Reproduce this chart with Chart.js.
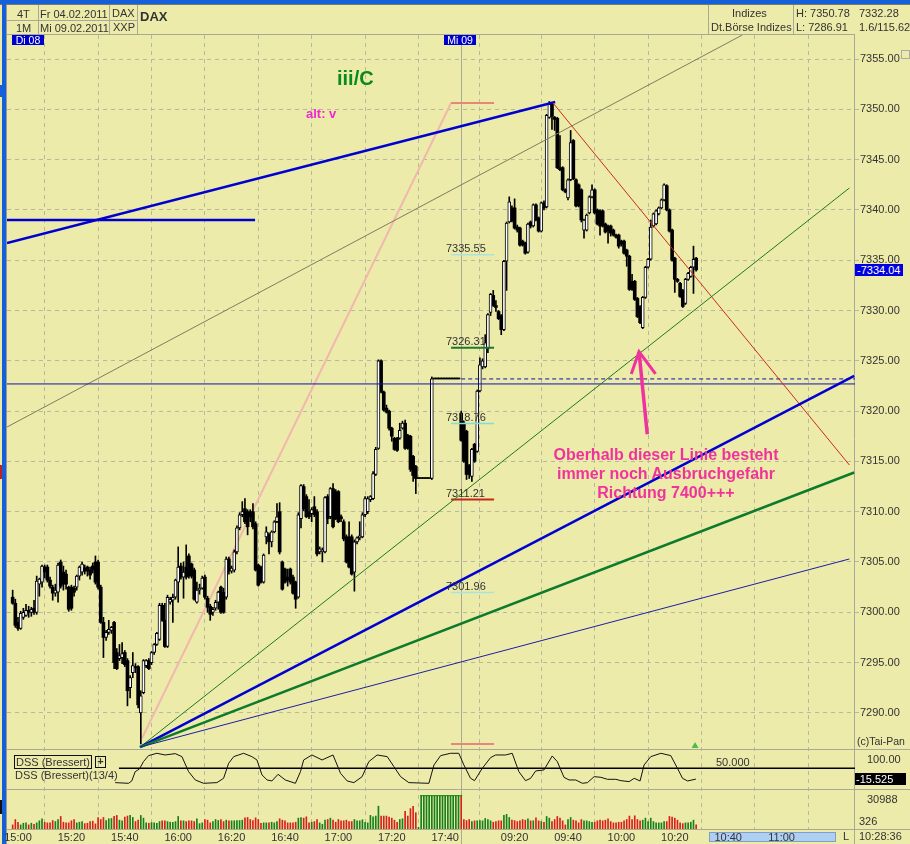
<!DOCTYPE html>
<html>
<head>
<meta charset="utf-8">
<script src="https://cdn.jsdelivr.net/npm/chart.js@4/dist/chart.umd.min.js"></script>
<style>
html, body { margin: 0; padding: 0; background: #ecebaa; overflow: hidden; }
#wrap { position: relative; width: 910px; height: 844px; font: 11px "Liberation Sans", Arial, sans-serif; color: #333; }
#c { position: absolute; left: 0; top: 0; z-index: 2; }
.t { position: absolute; white-space: nowrap; line-height: 12px; z-index: 3; }
.b { position: absolute; background: #a9a99a; z-index: 1; }
.pink { color: #f0339c; font-weight: bold; font-size: 16px; line-height: 19px; text-align: center; left: 535px; width: 262px; top: 445px; }
</style>
</head>
<body>
<div id="wrap">
  <div class="b" style="left:0;top:0;width:910px;height:4px;background:#1560d8"></div>
  <div class="b" style="left:0;top:4px;width:910px;height:1px;background:#777"></div>
  <div class="b" style="left:2px;top:0;width:4px;height:844px;background:#1560d8"></div>
  <div class="b" style="left:0;top:85px;width:2px;height:12px;background:#1560d8"></div>
  <div class="b" style="left:0;top:465px;width:2px;height:14px;background:#c02020"></div>
  <div class="b" style="left:0;top:800px;width:2px;height:14px;background:#111"></div>
  <div class="b" style="left:6px;top:5px;width:1px;height:839px;background:#999"></div>

  <!-- header -->
  <div class="b" style="left:7px;top:34px;width:848px;height:1px"></div>
  <div class="b" style="left:7px;top:20px;width:130px;height:1px"></div>
  <div class="b" style="left:38px;top:5px;width:1px;height:29px"></div>
  <div class="b" style="left:109px;top:5px;width:1px;height:29px"></div>
  <div class="b" style="left:137px;top:5px;width:1px;height:29px"></div>
  <div class="b" style="left:708px;top:5px;width:1px;height:29px"></div>
  <div class="b" style="left:793px;top:5px;width:1px;height:29px"></div>
  <div class="t" style="left:17px;top:8px">4T</div>
  <div class="t" style="left:16px;top:22px">1M</div>
  <div class="t" style="left:40px;top:8px">Fr 04.02.2011</div>
  <div class="t" style="left:40px;top:22px">Mi 09.02.2011</div>
  <div class="t" style="left:112px;top:7px">DAX</div>
  <div class="t" style="left:113px;top:21px">XXP</div>
  <div class="t" style="left:140px;top:11px;font-weight:bold;font-size:13px">DAX</div>
  <div class="t" style="left:732px;top:7px">Indizes</div>
  <div class="t" style="left:711px;top:21px">Dt.Börse Indizes</div>
  <div class="t" style="left:796px;top:7px">H: 7350.78</div>
  <div class="t" style="left:796px;top:21px">L: 7286.91</div>
  <div class="t" style="left:859px;top:7px">7332.28</div>
  <div class="t" style="left:859px;top:21px">1.6/115.62</div>
  <div class="b" style="left:901px;top:50px;width:7px;height:7px;background:none;border:1px solid #aaa"></div>

  <div class="t" style="left:12px;top:35px;width:32px;height:10px;line-height:10px;font-size:10.5px;background:#0000cc;color:#fff;text-align:center">Di 08</div>
  <div class="t" style="left:444px;top:35px;width:32px;height:10px;line-height:10px;font-size:10.5px;background:#0000cc;color:#fff;text-align:center">Mi 09</div>

  <!-- annotations -->
  <div class="t" style="left:337px;top:68px;line-height:20px;font-size:20px;font-weight:bold;color:#0a8a1a">iii/C</div>
  <div class="t" style="left:306px;top:108px;font-size:13px;font-weight:bold;color:#f028d0">alt: v</div>
  <div class="t pink">Oberhalb dieser Linie besteht<br>immer noch Ausbruchgefahr<br>Richtung 7400+++</div>
  <div class="t" style="left:446px;top:242px">7335.55</div>
  <div class="t" style="left:446px;top:335px">7326.31</div>
  <div class="t" style="left:446px;top:411px">7318.76</div>
  <div class="t" style="left:446px;top:487px">7311.21</div>
  <div class="t" style="left:446px;top:580px">7301.96</div>

  <!-- right side labels -->
  <div class="t" style="left:855px;top:264px;width:46px;padding-left:2px;background:#0000e0;color:#fff">-7334.04</div>
  <div class="t" style="left:857px;top:735px;font-size:10.5px">(c)Tai-Pan</div>
  <div class="t" style="left:855px;top:773px;width:50px;padding-left:1px;background:#000;color:#fff">-15.525</div>
  <div class="t" style="left:859px;top:815px">326</div>
  <div class="t" style="left:716px;top:756px">50.000</div>

  <!-- lower panes -->
  <div class="t" style="left:14px;top:755px;width:75px;height:12px;border:1px solid #111;padding-left:1px">DSS (Bressert)</div>
  <div class="t" style="left:95px;top:756px;width:9px;height:10px;line-height:9px;border:1px solid #111;text-align:center;font-weight:bold">+</div>
  <div class="t" style="left:15px;top:769px">DSS (Bressert)(13/4)</div>

  <!-- time strip -->
  <div class="b" style="left:709px;top:832px;width:125px;height:8px;background:#aecff2;border:1px solid #7f9fc4"></div>
  <div class="t" style="left:843px;top:830px">L</div>
  <div class="t" style="left:859px;top:830px">10:28:36</div>

  <canvas id="c" width="910" height="844"></canvas>
</div>

<script>
// 1 minute bars, first entry is bar -2, 15:00 is bar 0, 09:00 next day is bar 166
var firstBar = -2;

var opens = [
  7301.5,7300.9,7299.0,7298.4,7299.5,7299.7,7300.2,7300.0,7300.4,7300.0,
  7302.8,7303.0,7304.5,7304.5,7303.2,7302.5,7301.9,7302.0,7305.0,7304.0,
  7303.8,7302.5,7302.5,7302.4,7302.5,7303.6,7304.0,7304.4,7304.5,7304.2,
  7304.6,7305.0,7305.0,7302.5,7299.0,7297.5,7298.0,7298.2,7299.0,7296.0,
  7295.4,7295.5,7296.0,7295.2,7292.5,7294.0,7294.6,7294.6,7290.0,7292.0,
  7294.7,7295.2,7295.0,7296.0,7296.8,7297.3,7300.7,7299.2,7296.6,7301.0,
  7301.2,7301.5,7303.0,7304.6,7303.5,7304.5,7305.6,7304.8,7304.2,7301.0,
  7302.2,7302.4,7303.5,7301.4,7300.6,7300.0,7300.4,7301.0,7302.5,7302.0,
  7301.5,7305.3,7304.1,7304.2,7306.0,7308.4,7309.7,7310.3,7310.0,7310.0,
  7310.0,7308.8,7304.7,7304.5,7303.0,7307.5,7307.7,7307.0,7308.0,7309.0,
  7310.0,7305.0,7304.3,7303.5,7304.3,7303.5,7303.0,7301.5,7309.3,7312.5,
  7311.5,7310.0,7309.8,7310.5,7310.0,7306.0,7306.0,7306.0,7311.5,7309.5,
  7312.3,7312.0,7312.0,7309.5,7309.0,7307.5,7307.5,7307.5,7304.0,7307.0,
  7307.4,7307.5,7309.7,7310.0,7311.2,7311.3,7313.7,7316.3,7325.0,7321.9,
  7320.3,7320.0,7318.3,7317.3,7317.3,7317.3,7318.3,7318.8,7317.6,7317.5,
  7315.5,7314.5,7313.3,7313.3,7313.3,7313.3,7313.3,7313.3,7323.2,7323.2,
  7323.2,7323.2,7323.2,7323.2,7323.2,7323.2,7323.2,7323.2,7319.8,7318.8,
  7318.0,7314.6,7313.5,7316.7,7316.0,7322.0,7324.4,7324.4,7326.2,7329.8,
  7331.5,7330.5,7329.9,7329.5,7328.1,7334.9,7338.8,7340.2,7340.2,7338.3,
  7338.2,7336.9,7336.7,7335.8,7338.8,7338.4,7340.5,7339.2,7337.9,7340.7,
  7340.3,7349.2,7350.5,7349.2,7349.1,7344.2,7344.2,7342.0,7341.2,7343.0,
  7346.9,7343.0,7342.5,7342.0,7338.0,7338.0,7339.7,7341.3,7342.0,7340.0,
  7339.9,7339.9,7338.6,7338.4,7338.4,7338.0,7337.5,7337.5,7336.9,7336.9,
  7336.0,7335.4,7332.9,7332.9,7331.2,7330.4,7328.3,7331.3,7334.3,7335.1,
  7338.4,7338.6,7339.6,7340.2,7341.0,7342.4,7340.0,7338.0,7335.2,7333.1,
  7332.7,7332.0,7330.7,7333.1,7333.4,7334.3,7335.2
];
var closes = [
  7300.9,7298.7,7298.4,7299.9,7300.0,7300.2,7300.0,7300.3,7300.0,7303.1,
  7303.3,7304.6,7304.0,7303.2,7302.6,7301.9,7302.2,7304.7,7302.6,7302.8,
  7302.8,7300.3,7300.4,7302.0,7303.6,7304.5,7304.8,7304.1,7304.1,7303.7,
  7304.2,7303.0,7302.5,7299.0,7297.5,7298.0,7298.3,7298.5,7295.0,7294.4,
  7295.7,7295.9,7294.8,7292.2,7293.5,7294.7,7294.5,7290.8,7291.7,7295.2,
  7295.2,7294.4,7296.0,7296.8,7297.9,7300.7,7299.2,7296.6,7301.5,7301.3,
  7301.5,7303.2,7304.5,7303.5,7304.0,7303.5,7303.6,7303.6,7301.3,7302.2,
  7302.4,7303.4,7301.5,7300.5,7299.8,7300.3,7301.0,7302.0,7300.0,7300.0,
  7305.3,7304.1,7304.4,7306.0,7308.4,7309.7,7310.0,7309.0,7308.5,7309.5,
  7308.5,7304.2,7302.7,7303.0,7305.7,7308.0,7307.0,7308.0,7309.0,7309.5,
  7306.0,7302.3,7303.0,7303.2,7303.0,7301.9,7301.3,7309.7,7312.6,7310.3,
  7309.5,7309.5,7310.2,7309.7,7305.8,7306.3,7306.2,7311.4,7309.3,7312.3,
  7308.5,7309.3,7309.0,7309.3,7307.3,7305.0,7304.5,7303.8,7307.0,7307.4,
  7307.6,7309.7,7311.3,7311.3,7311.5,7313.8,7316.2,7325.0,7321.9,7320.1,
  7319.9,7318.3,7317.5,7316.2,7316.1,7318.1,7318.8,7316.3,7316.3,7314.2,
  7313.6,7313.3,7313.3,7313.3,7313.3,7313.3,7313.3,7323.2,7323.2,7323.2,
  7323.2,7323.2,7323.2,7323.2,7323.2,7323.2,7323.2,7323.2,7317.1,7315.0,
  7313.7,7313.7,7316.2,7315.0,7322.0,7324.6,7325.0,7326.8,7329.6,7331.6,
  7330.5,7330.3,7329.2,7328.1,7334.9,7338.7,7340.8,7338.9,7338.2,7338.0,
  7336.5,7336.5,7335.7,7338.6,7338.4,7340.5,7339.0,7337.9,7340.7,7340.2,
  7349.4,7350.5,7349.3,7349.0,7344.2,7344.0,7342.0,7341.8,7343.0,7346.7,
  7343.1,7340.4,7340.4,7339.0,7339.0,7339.5,7341.3,7342.0,7339.7,7338.6,
  7338.4,7338.4,7337.8,7337.9,7337.7,7337.5,7337.3,7336.4,7336.6,7335.7,
  7335.4,7332.1,7332.1,7331.1,7329.4,7328.8,7331.3,7334.3,7335.1,7338.3,
  7339.6,7339.9,7340.2,7341.0,7342.5,7340.0,7337.9,7335.0,7333.1,7332.9,
  7331.4,7330.4,7333.1,7333.7,7334.3,7335.1,7334.04
];
var highs = [
  7302.2,7301.3,7299.5,7300.1,7300.4,7300.8,7300.6,7300.5,7301.2,7303.6,
  7303.4,7304.7,7304.7,7304.7,7303.5,7302.7,7302.8,7304.9,7305.2,7304.6,
  7304.2,7302.6,7302.7,7302.6,7303.7,7304.6,7305.0,7304.7,7304.6,7304.5,
  7304.9,7305.6,7305.2,7302.7,7299.5,7298.2,7299.2,7298.6,7299.1,7296.4,
  7296.8,7297.0,7296.2,7295.4,7293.7,7296.0,7294.9,7294.7,7292.2,7295.3,
  7295.3,7295.4,7296.1,7296.9,7298.0,7300.9,7300.9,7300.9,7301.7,7301.5,
  7301.8,7303.3,7306.5,7304.9,7305.0,7306.7,7305.8,7304.9,7304.4,7303.0,
  7302.8,7303.6,7303.7,7301.6,7300.8,7300.5,7301.2,7302.1,7302.6,7302.4,
  7305.5,7305.5,7304.6,7306.2,7308.6,7309.9,7311.0,7311.3,7310.2,7310.2,
  7310.8,7309.0,7304.8,7304.6,7305.8,7308.5,7307.9,7308.1,7309.1,7310.8,
  7310.9,7305.1,7304.4,7304.3,7304.4,7303.7,7303.1,7309.9,7312.7,7312.7,
  7311.7,7311.2,7310.4,7311.5,7310.2,7306.5,7306.4,7311.5,7311.7,7312.4,
  7312.8,7312.2,7312.1,7309.7,7309.2,7307.7,7309.0,7307.7,7307.2,7307.5,
  7309.0,7309.9,7311.5,7311.5,7311.6,7314.0,7316.4,7325.1,7325.1,7322.0,
  7320.6,7320.1,7318.4,7317.4,7317.4,7318.8,7319.0,7319.1,7317.7,7317.6,
  7315.6,7314.6,7313.3,7313.3,7313.3,7313.3,7313.3,7323.4,7323.2,7323.2,
  7323.2,7323.2,7323.2,7323.2,7323.2,7323.2,7323.2,7323.2,7320.0,7319.0,
  7318.1,7314.7,7316.3,7316.8,7322.1,7325.3,7325.2,7327.6,7329.7,7331.7,
  7332.0,7331.0,7330.0,7329.6,7335.0,7338.8,7341.3,7340.4,7341.1,7338.5,
  7338.3,7337.0,7336.8,7338.7,7338.9,7340.6,7340.6,7339.3,7340.8,7340.9,
  7349.5,7350.78,7350.6,7349.3,7349.2,7347.4,7344.3,7342.1,7343.1,7347.9,
  7347.0,7343.1,7342.6,7342.1,7339.1,7339.6,7341.4,7342.5,7342.1,7340.1,
  7340.0,7340.0,7338.7,7338.5,7338.5,7338.1,7337.6,7337.6,7337.0,7337.0,
  7336.1,7335.5,7333.6,7333.0,7331.3,7330.5,7331.4,7334.4,7335.2,7339.0,
  7339.7,7340.0,7340.3,7341.1,7342.6,7342.5,7340.1,7338.1,7335.3,7333.2,
  7332.8,7332.1,7333.2,7333.8,7334.4,7336.4,7335.3
];
var lows = [
  7300.8,7298.5,7298.2,7298.3,7299.3,7299.6,7299.5,7299.6,7299.8,7299.8,
  7301.6,7302.5,7303.4,7303.0,7302.4,7301.2,7301.6,7301.0,7302.4,7302.2,
  7302.3,7300.1,7300.2,7301.6,7302.2,7303.2,7303.7,7303.8,7303.6,7303.3,
  7303.9,7302.8,7302.3,7298.9,7295.5,7297.2,7297.8,7297.9,7294.4,7294.3,
  7295.2,7294.9,7294.6,7290.7,7291.5,7293.5,7294.0,7290.5,7286.91,7291.9,
  7294.5,7294.3,7294.8,7295.8,7296.7,7297.2,7299.1,7296.5,7296.5,7300.8,
  7299.0,7301.3,7301.0,7303.3,7301.4,7303.3,7303.4,7303.4,7301.2,7300.9,
  7301.8,7302.3,7301.3,7300.0,7299.2,7299.7,7300.2,7300.3,7299.9,7299.9,
  7301.3,7303.8,7303.9,7304.0,7305.8,7308.2,7309.5,7308.8,7307.7,7309.0,
  7308.3,7304.1,7302.6,7302.9,7302.9,7306.8,7305.8,7306.5,7307.9,7308.9,
  7305.8,7302.2,7302.9,7302.6,7302.8,7301.8,7300.4,7301.4,7308.4,7310.1,
  7309.4,7309.3,7309.0,7309.5,7305.6,7305.8,7305.0,7305.9,7308.8,7309.3,
  7308.4,7309.2,7308.9,7309.0,7307.1,7304.9,7304.4,7303.7,7302.1,7306.8,
  7307.2,7307.4,7309.5,7309.8,7311.0,7311.2,7313.6,7316.2,7321.8,7320.0,
  7319.8,7318.1,7317.0,7316.1,7316.0,7317.2,7318.2,7316.2,7316.2,7314.0,
  7313.0,7311.8,7313.3,7313.3,7313.3,7313.3,7313.3,7313.2,7323.2,7323.2,
  7323.2,7323.2,7323.2,7323.2,7323.2,7323.2,7323.2,7323.2,7317.0,7314.9,
  7313.2,7313.3,7313.0,7314.9,7315.9,7321.9,7324.2,7324.3,7325.8,7329.5,
  7330.4,7329.9,7329.1,7327.6,7328.0,7332.0,7338.7,7338.8,7338.1,7337.8,
  7336.4,7336.4,7335.6,7335.7,7338.2,7338.3,7338.9,7337.8,7337.8,7340.0,
  7340.2,7349.1,7348.0,7347.9,7344.1,7343.9,7341.9,7341.7,7341.0,7342.9,
  7343.0,7340.3,7340.3,7338.8,7337.2,7337.9,7339.6,7341.2,7339.6,7338.5,
  7337.5,7338.3,7337.7,7336.7,7337.4,7337.4,7337.2,7336.2,7336.4,7335.6,
  7334.4,7332.0,7332.0,7331.0,7329.3,7328.7,7328.2,7331.2,7334.2,7335.0,
  7338.3,7338.5,7339.5,7340.1,7340.9,7339.9,7337.8,7334.9,7331.8,7332.8,
  7331.3,7330.3,7330.6,7333.0,7333.3,7331.7,7333.9
];
var volumes = [
  4400,10200,7300,4400,6200,6600,4400,6200,5100,6600,
  8800,11000,7300,6600,6600,9100,8000,10200,13500,7300,
  6600,6600,8800,10200,6600,7300,8000,5800,6200,8000,
  8400,5500,12400,10200,12400,9100,11000,11300,13500,14600,
  9500,8800,12800,13900,14600,12400,8000,9500,14600,11700,
  6600,6200,6900,6600,6200,8000,8800,8800,8000,7300,
  7300,8000,13500,8800,8800,8000,8800,8800,8000,11000,
  5800,6600,10200,9500,6600,8000,10200,9100,10200,8000,
  9500,8800,8800,8800,9100,9100,9500,12000,12400,10200,
  9100,12000,10200,6200,6600,6600,6600,7300,6600,8000,
  11000,9500,8800,6600,6600,6600,7300,11700,12400,11700,
  13100,6600,7300,8000,10200,6600,5100,9500,10200,11700,
  9500,7300,10200,8800,8800,9500,8000,8000,10200,8800,
  8800,9900,7300,6600,14600,13100,13900,24500,13900,13900,
  13900,12800,11700,9500,7300,10200,11000,19000,13900,21900,
  24500,17500,1800,
  35800,35800,35800,35800,35800,35800,35800,35800,35800,35800,35800,35800,35800,35800,35800,35800,
  10200,9100,10200,8000,8800,8800,9100,8800,11300,10200,
  8800,7300,8000,8800,8800,14600,15700,12400,9500,9100,
  8000,8800,10200,9500,11000,8800,8800,12000,8800,8000,
  7300,13500,11700,8000,10200,13500,11700,8800,4400,10200,
  12400,9500,8800,6600,10200,8800,8800,8000,7300,7300,
  8800,9500,8800,9500,11000,8000,6600,6600,7300,7300,
  8800,10200,13900,10200,14200,10200,8800,9500,11700,8000,
  11700,8000,6600,6600,6600,8000,8000,13500,12800,11700,
  9500,6600,5800,6600,6600,7300,9500,4400
];

// DSS curve [bar, value]
var dssCurve = [
  [36.4,-37.1],[41.4,-41.2],[42.6,-27],[43.9,29.7],[45.5,46],[47,90.5],[48.9,127],[52,141.2],[55.1,131],[58.9,139.1],
  [61.4,120.9],[63.9,29.7],[66.4,-20.9],[69.5,-41.2],[74.5,-37.1],[77,-10.8],[78.9,80.4],[80.8,120.9],[84.5,141.2],[87.6,120.9],
  [89.5,100.7],[91.4,9.5],[93.3,-20.9],[95.1,-27],[97.4,13.5],[100.1,-20.9],[103.9,-41.2],[105.8,29.7],[107,100.7],[110.1,131],
  [113.9,100.7],[118,131],[120.8,19.6],[123.3,-27],[125.8,-37.1],[128.9,-0.7],[131.4,90.5],[134.5,131],[138.3,120.9],[140.8,60.1],
  [143.3,-0.7],[146.4,-37.1],[153.9,-41.2],[155.8,70.3],[158.3,127],[162,141.2],[165.1,141.2],[167,70.3],[169.5,-10.8],[171,-25],
  [173.9,50],[177,114.8],[178.9,131],[182.6,131],[185.1,141.2],[187.6,29.7],[190.1,-25],[192,-10.8],[193.9,33.8],[197,39.9],
  [200.1,125],[202,90.5],[204.5,-4.7],[206.4,-20.9],[208.9,-20.9],[211.4,-41.2],[213.3,-37.1],[215.8,-0.7],[218.3,-4.7],[220.8,-16.9],
  [223.9,-16.9],[225.8,-25],[228.9,-31],[230.8,-10.8],[233,-27],[234.5,70.3],[237,120.9],[240.8,141.2],[244.5,127],[247,50],
  [248.9,-10.8],[250.8,-27],[253.9,-15.525]
];
var dssMid = [[37.8,50],[313.5,50]];

// axis
var tickBars = [0,20,40,60,80,100,120,140,160,186,206,226,246,266,286];
var tickLabels = ['15:00','15:20','15:40','16:00','16:20','16:40','17:00','17:20','17:40','09:20','09:40','10:00','10:20','10:40','11:00'];
var priceTicks = [7290,7295,7300,7305,7310,7315,7320,7325,7330,7335,7340,7345,7350,7355];
var dssTicks = [100];
var volTicks = [30988];

// drawn lines [bar, price]
var upperChannel = [[-4.12,7336.71],[201.2,7350.73]];
var oldSupport = [[-4.12,7339],[88.8,7339]];
var greyTrend = [[-4.12,7318.42],[271.3,7357.39]];
var pinkRise = [[46.5,7287.5],[162.2,7350.63]];
var fibTop = [[162.2,7350.63],[178.3,7350.63]];
var fibBottom = [[162.2,7286.91],[178.3,7286.91]];
var fib1 = [[162.2,7335.55],[178.3,7335.55]];
var fib2 = [[162.2,7326.31],[178.3,7326.31]];
var fib3 = [[162.2,7318.76],[178.3,7318.76]];
var fib4 = [[162.2,7311.21],[178.3,7311.21]];
var fib5 = [[162.2,7301.96],[178.3,7301.96]];
var levelSolid = [[-4.12,7322.7],[313.5,7322.7]];
var levelDashed = [[166,7323.2],[313.5,7323.2]];
var redTrend = [[200.4,7350.63],[311.4,7314.64]];
var fanThinGreen = [[45.7,7286.6],[311.4,7342.18]];
var fanBlue = [[45.7,7286.6],[313.2,7323.5]];
var fanGreen = [[45.7,7286.6],[313.2,7313.9]];
var fanThinBlue = [[45.7,7286.6],[311.4,7305.3]];
var arrowShaft = [[235.7,7317.7],[232.6,7325.9]];
var arrowHead = [[229.7,7323.7],[232.6,7325.9],[238.8,7323.7]];
var volumeCap = [[150.6,35800],[166.4,35800]];
var lowMarker = [[253.6,7286.7]];

var wickData = [], upData = [], downData = [], volData = [], volColors = [];
for (var i = 0; i < opens.length; i++) {
  var bar = firstBar + i;
  wickData.push({x: bar, y: [lows[i], highs[i]]});
  if (closes[i] > opens[i]) {
    upData.push({x: bar, y: [opens[i], closes[i]]});
  } else {
    downData.push({x: bar, y: [closes[i], opens[i]]});
  }
  volData.push({x: bar, y: volumes[i]});
  volColors.push(closes[i] < opens[i] ? '#d8201c' : '#16801c');
}

function line(data, color, width, order, dash) {
  return {type: 'line', data: data, borderColor: color, borderWidth: width, pointRadius: 0,
          tension: 0, fill: false, order: order, borderDash: dash || [], yAxisID: 'y'};
}

var dssLine = line(dssCurve, '#111', 1, 1); dssLine.yAxisID = 'yDss';
var dssMidLine = line(dssMid, '#000', 1.4, 2); dssMidLine.yAxisID = 'yDss';
var capLine = line(volumeCap, '#16801c', 1, 1); capLine.yAxisID = 'yVol';
var triangle = {type: 'line', data: lowMarker, showLine: false, pointStyle: 'triangle', pointRadius: 4,
                backgroundColor: '#4cbb4c', borderWidth: 0, yAxisID: 'y', order: 1};

// pane dividers and the session break
var panes = {
  id: 'panes',
  beforeDatasetsDraw: function(chart) {
    var ctx = chart.ctx, s = chart.scales, a = chart.chartArea;
    ctx.save();
    ctx.strokeStyle = '#a9a99a';
    ctx.lineWidth = 1;
    ctx.beginPath();
    [s.y.bottom, s.yDss.bottom, s.yVol.bottom].forEach(function(y) {
      ctx.moveTo(a.left, Math.round(y) + 0.5);
      ctx.lineTo(910, Math.round(y) + 0.5);
    });
    var sx = Math.round(s.x.getPixelForValue(166)) + 0.5;
    ctx.moveTo(sx, a.top);
    ctx.lineTo(sx, 844);
    ctx.moveTo(a.right - 0.5, a.top);
    ctx.lineTo(a.right - 0.5, 844);
    ctx.stroke();
    ctx.restore();
  }
};

function yAxis(extra) {
  var base = {
    position: 'right',
    stack: 'panes',
    afterFit: function(scale) { scale.width = 55; },
    grid: {display: false},
    border: {display: false},
    ticks: {color: '#333', font: {family: 'Liberation Sans', size: 11}, padding: 4, crossAlign: 'near'}
  };
  return Object.assign(base, extra);
}

new Chart(document.getElementById('c'), {
  type: 'bar',
  data: {
    datasets: [
      line(fanThinBlue, '#1c1ca8', 1, 1),
      line(fanGreen, '#0e7a2c', 2.5, 1),
      line(fanBlue, '#0000d0', 2.5, 1),
      line(fanThinGreen, '#1f7a1f', 1, 1),
      line(redTrend, '#cc2a1a', 1, 1),
      line(levelSolid, '#1010b0', 1, 1),
      line(levelDashed, '#1010b0', 1, 1, [4, 3]),
      line(greyTrend, '#7d7d60', 1, 1),
      line(upperChannel, '#0000d0', 2.5, 1),
      line(oldSupport, '#0000d0', 2.5, 1),
      line(arrowShaft, '#f0339c', 3.5, 0),
      line(arrowHead, '#f0339c', 3, 0),
      line(fib1, '#a6e4dc', 1.5, 1),
      line(fib2, '#1e7a30', 2, 1),
      line(fib3, '#7fe0d8', 1.5, 1),
      line(fib4, '#c82818', 2, 1),
      line(fib5, '#a6e4dc', 1.5, 1),
      line(fibTop, '#e8867a', 2, 1),
      line(fibBottom, '#e8867a', 2, 1),
      {label: 'up', data: upData, backgroundColor: '#fff', borderColor: '#000', borderWidth: 1,
       borderSkipped: false, barThickness: 3, grouped: false, order: 5, yAxisID: 'y'},
      {label: 'down', data: downData, backgroundColor: '#000', borderColor: '#000', borderWidth: 0,
       borderSkipped: false, barThickness: 3, minBarLength: 1, grouped: false, order: 5, yAxisID: 'y'},
      {label: 'wick', data: wickData, backgroundColor: '#000', barThickness: 1, grouped: false, order: 6, yAxisID: 'y'},
      line(pinkRise, '#f2b8ae', 2, 7),
      dssLine,
      dssMidLine,
      capLine,
      triangle,
      {label: 'vol', data: volData, backgroundColor: volColors, barThickness: 1, grouped: false, order: 2, yAxisID: 'yVol'}
    ]
  },
  options: {
    responsive: false,
    animation: false,
    devicePixelRatio: 1,
    layout: {padding: {left: 7, top: 35, right: 0, bottom: 0}},
    plugins: {legend: {display: false}, tooltip: {enabled: false}},
    scales: {
      x: {
        type: 'linear',
        offset: false,
        min: -4.12,
        max: 313.5,
        afterFit: function(scale) { scale.height = 15; },
        afterBuildTicks: function(axis) {
          axis.ticks = tickBars.map(function(v) { return {value: v}; });
        },
        grid: {color: '#b8b8a0', drawTicks: false},
        border: {display: false, dash: [4, 4]},
        ticks: {
          autoSkip: false, maxRotation: 0, padding: 2, color: '#333',
          font: {family: 'Liberation Sans', size: 11},
          callback: function(v) { return tickLabels[tickBars.indexOf(v)]; }
        }
      },
      y: yAxis({
        min: 7286.41, max: 7357.39, weight: 1, stackWeight: 714,
        grid: {color: '#b8b8a0', drawTicks: true, tickLength: 4},
        border: {display: false, dash: [4, 4]},
        afterBuildTicks: function(axis) {
          axis.ticks = priceTicks.map(function(v) { return {value: v}; });
        },
        ticks: {color: '#333', font: {family: 'Liberation Sans', size: 11}, padding: 1, crossAlign: 'near',
                callback: function(v) { return v.toFixed(2); }}
      }),
      yDss: yAxis({
        min: -75.8, max: 167.3, weight: 2, stackWeight: 40,
        afterBuildTicks: function(axis) {
          axis.ticks = dssTicks.map(function(v) { return {value: v}; });
        },
        ticks: {color: '#333', font: {family: 'Liberation Sans', size: 11}, padding: 4, crossAlign: 'near',
                callback: function(v) { return v.toFixed(2); }}
      }),
      yVol: yAxis({
        min: 0, max: 43000, weight: 3, stackWeight: 40,
        afterBuildTicks: function(axis) {
          axis.ticks = volTicks.map(function(v) { return {value: v}; });
        },
        ticks: {color: '#333', font: {family: 'Liberation Sans', size: 11}, padding: 4, crossAlign: 'near',
                callback: function(v) { return String(v); }}
      })
    }
  },
  plugins: [panes]
});
</script>
</body>
</html>
